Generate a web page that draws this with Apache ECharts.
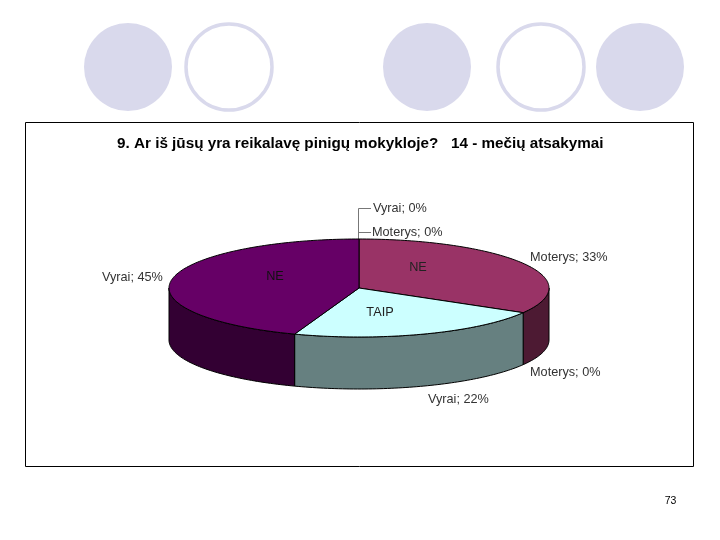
<!DOCTYPE html>
<html>
<head>
<meta charset="utf-8">
<style>html,body{margin:0;padding:0;background:#fff}#c{width:720px;height:540px}</style>
<script src="https://cdn.jsdelivr.net/npm/echarts@6/dist/echarts.min.js"></script>
</head>
<body>
<div id="c"></div>
<script>
var titleText = '9. Ar iš jūsų yra reikalavę pinigų mokykloje?   14 - mečių atsakymai';
var pageNumber = '73';
var sliceGroups = ['Moterys', 'Moterys', 'Vyrai', 'Vyrai', 'Vyrai', 'Moterys'];
var sliceAnswers = ['NE', 'TAIP', 'TAIP', 'NE', 'NE', 'NE'];
var sliceValues = [33.4, 0, 22.1, 44.5, 0, 0];

var topColors = ['#993366', '#CCFFFF', '#CCFFFF', '#660066', '#660066', '#993366'];
var wallColors = ['#4D1A33', '#668080', '#668080', '#330033', '#330033', '#4D1A33'];
var labelSpots = [[530, 257], [530, 372.5], [428, 399.5], [102, 277.5], [373, 208], [372, 232]];

var cx = 359, cy = 288, rx = 190, ry = 49, depth = 52;
var total = sliceValues.reduce(function (a, b) { return a + b; }, 0);
var starts = [];
sliceValues.reduce(function (acc, v, i) { starts[i] = acc; return acc + v; }, 0);

function toAngle(v) { return v / total * Math.PI * 2; }
function rim(a, dy) { return [cx + rx * Math.sin(a), cy - ry * Math.cos(a) + (dy || 0)]; }
function arc(a0, a1, dy) {
  var n = Math.max(2, Math.ceil((a1 - a0) / 0.02)), out = [];
  for (var i = 0; i <= n; i++) out.push(rim(a0 + (a1 - a0) * i / n, dy));
  return out;
}
function renderTop(params, api) {
  var s = api.value(0), v = api.value(1);
  if (!v) return null;
  return {
    type: 'polygon',
    shape: { points: [[cx, cy]].concat(arc(toAngle(s), toAngle(s + v))) },
    style: { fill: topColors[params.dataIndex], stroke: '#000', lineWidth: 1 }
  };
}
function renderWall(params, api) {
  var s = toAngle(api.value(0)), e = toAngle(api.value(0) + api.value(1));
  var a0 = Math.max(s, Math.PI / 2), a1 = Math.min(e, Math.PI * 1.5);
  if (a1 <= a0) return null;
  return {
    type: 'polygon',
    shape: { points: arc(a0, a1).concat(arc(a0, a1, depth).reverse()) },
    style: { fill: wallColors[params.dataIndex], stroke: '#000', lineWidth: 1 }
  };
}
var sliceData = sliceValues.map(function (v, i) { return [starts[i], v]; });

function disc(x, filled) {
  return {
    type: 'circle', silent: true, z: 1,
    shape: { cx: x, cy: 67, r: filled ? 44 : 43 },
    style: filled ? { fill: '#D9D9EC' } : { fill: '#fff', stroke: '#D9D9EC', lineWidth: 3.5 }
  };
}
function txt(x, y, t, extra) {
  var st = { x: x, y: y, text: t, fill: '#333', font: '12.7px "Liberation Sans"', textVerticalAlign: 'middle', textAlign: 'left' };
  for (var k in (extra || {})) st[k] = extra[k];
  return { type: 'text', silent: true, z: 20, style: st };
}
function leader(pts) {
  return { type: 'polyline', silent: true, z: 3, shape: { points: pts }, style: { stroke: '#777', lineWidth: 1, fill: null } };
}
var labels = sliceValues.map(function (v, i) {
  return txt(labelSpots[i][0], labelSpots[i][1], sliceGroups[i] + '; ' + Math.round(v) + '%');
});

var chart = echarts.init(document.getElementById('c'), null, { renderer: 'canvas' });
chart.setOption({
  animation: false,
  backgroundColor: '#fff',
  series: [
    { type: 'custom', coordinateSystem: 'none', silent: true, z: 5, data: sliceData, renderItem: renderWall },
    { type: 'custom', coordinateSystem: 'none', silent: true, z: 6, data: sliceData, renderItem: renderTop }
  ],
  graphic: [
    disc(128, true), disc(229, false), disc(427, true), disc(541, false), disc(640, true),
    { type: 'rect', silent: true, z: 0, shape: { x: 25.5, y: 122.5, width: 668, height: 344 }, style: { fill: '#fff', stroke: '#000', lineWidth: 1 } },
    txt(117, 144, titleText, { fill: '#000', font: 'bold 15.25px "Liberation Sans"' }),
    leader([[358.5, 239], [358.5, 208.5], [371, 208.5]]),
    leader([[358.5, 232.5], [371, 232.5]]),
    txt(275, 276, sliceAnswers[3], { textAlign: 'center', fill: '#111' }),
    txt(418, 267, sliceAnswers[0], { textAlign: 'center', fill: '#222' }),
    txt(380, 312.5, sliceAnswers[2], { textAlign: 'center', fill: '#222' }),
    txt(670.5, 501, pageNumber, { textAlign: 'center', fill: '#000', font: '10.5px "Liberation Sans"' })
  ].concat(labels)
});
</script>
</body>
</html>
